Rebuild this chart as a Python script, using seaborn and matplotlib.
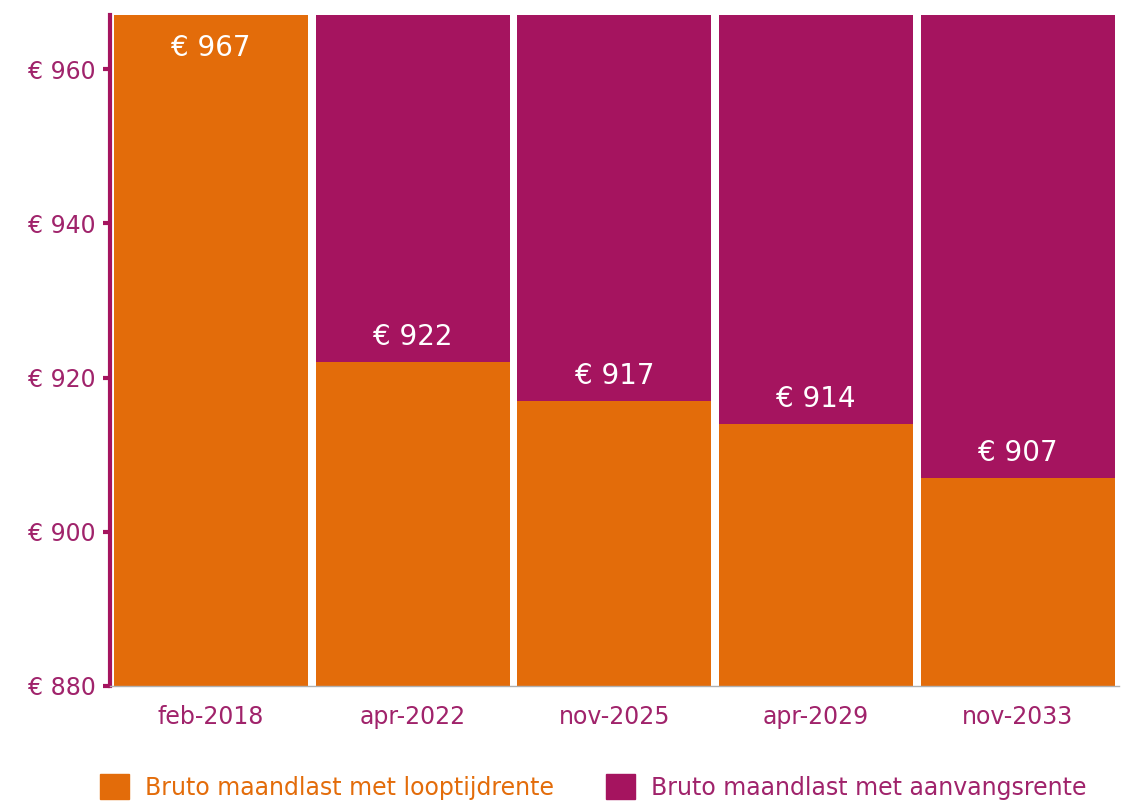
import pandas as pd
import matplotlib.pyplot as plt
import seaborn as sns
from matplotlib.patches import Patch

# data
periods = ["feb-2018", "apr-2022", "nov-2025", "apr-2029", "nov-2033"]
looptijdrente = [967, 922, 917, 914, 907]
aanvangsrente = [967, 967, 967, 967, 967]
y_ticks = [880, 900, 920, 940, 960]

ORANGE = "#E36C0A"
PURPLE = "#A5145F"
TEXT_PURPLE = "#A0236B"


def main():
    sns.set_style("white")
    plt.rcParams["font.family"] = ["DejaVu Sans"]

    df = pd.DataFrame({"periode": periods,
                       "looptijd": looptijdrente,
                       "aanvang": aanvangsrente})

    fig = plt.figure(figsize=(11.3, 8.01), dpi=100)
    ax = fig.add_axes([0.0973, 0.1436, 0.8927, 0.8374])

    # purple = aanvangsrente, orange = looptijdrente drawn on top
    sns.barplot(data=df, x="periode", y="aanvang", color=PURPLE,
                width=0.962, saturation=1, linewidth=0, ax=ax)
    sns.barplot(data=df, x="periode", y="looptijd", color=ORANGE,
                width=0.962, saturation=1, linewidth=0, ax=ax)

    ymin, ymax = 880, 967
    ax.set_ylim(ymin, ymax)
    ax.set_xlim(-0.5, 4.5)

    for i, v in enumerate(looptijdrente):
        y = v + 3.2 if v + 5 < ymax else v - 4.3
        ax.text(i, y, f"€ {v}", ha="center", va="center",
                color="white", fontsize=20)

    ax.set_yticks(y_ticks)
    ax.set_yticklabels([f"€ {t}" for t in y_ticks])
    ax.tick_params(axis="y", colors=PURPLE, labelcolor=TEXT_PURPLE,
                   length=5, width=3, labelsize=17, pad=5, left=True)
    ax.tick_params(axis="x", length=0, labelcolor=TEXT_PURPLE,
                   labelsize=17, pad=14)
    ax.set_xlabel("")
    ax.set_ylabel("")

    for s in ["top", "right"]:
        ax.spines[s].set_visible(False)
    ax.spines["left"].set_color(PURPLE)
    ax.spines["left"].set_linewidth(3)
    ax.spines["bottom"].set_color("#B0B0B0")
    ax.spines["bottom"].set_linewidth(1)

    handles = [Patch(color=ORANGE, label="Bruto maandlast met looptijdrente"),
               Patch(color=PURPLE, label="Bruto maandlast met aanvangsrente")]
    leg = fig.legend(handles=handles, loc="center left",
                     bbox_to_anchor=(0.078, 0.0175), ncol=2, frameon=False,
                     fontsize=17, handlelength=1.25, handleheight=1.25,
                     handletextpad=0.65, columnspacing=2.2, borderpad=0)
    for txt, c in zip(leg.get_texts(), [ORANGE, TEXT_PURPLE]):
        txt.set_color(c)

    fig.savefig("out.png", dpi=100)


if __name__ == "__main__":
    main()
